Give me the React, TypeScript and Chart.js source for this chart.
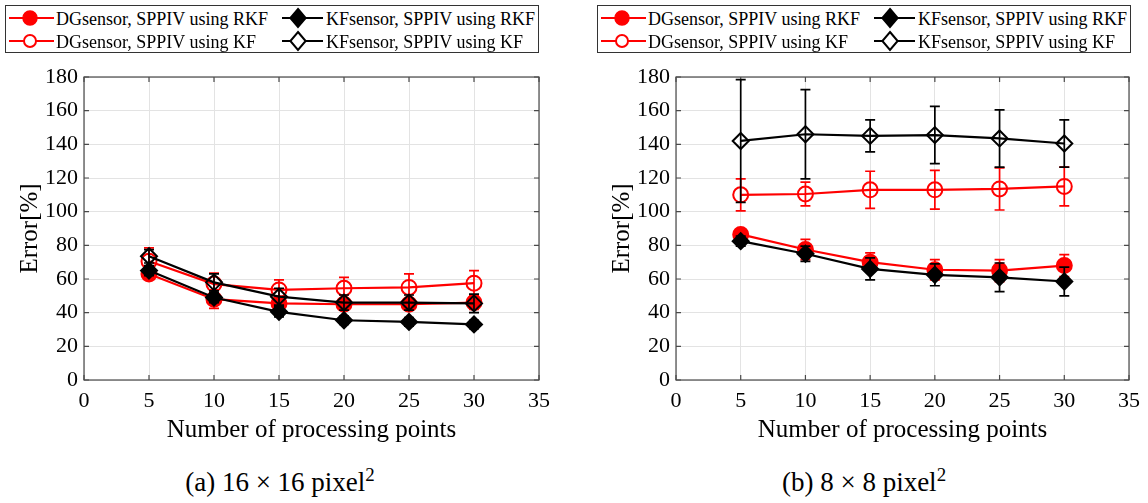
import React, { useEffect, useRef } from "react";
import { Chart, registerables } from "chart.js";

Chart.register(...registerables);

// ---------- data ----------
const xPoints = [5, 10, 15, 20, 25, 30];
const xTickValues = [0, 5, 10, 15, 20, 25, 30, 35];
const yTickValues = [0, 20, 40, 60, 80, 100, 120, 140, 160, 180];
const seriesNames = [
  "DGsensor, SPPIV using RKF",
  "DGsensor, SPPIV using KF",
  "KFsensor, SPPIV using RKF",
  "KFsensor, SPPIV using KF",
];
const xTitle = "Number of processing points";
const yTitle = "Error[%]";

// panel (a) 16x16
const aDgRkf = [63, 48, 45.5, 45, 45, 46];
const aDgRkfErr = [3, 5.5, 3.5, 3.5, 3.5, 4];
const aDgKf = [70.5, 57, 53.5, 54.5, 55, 57.5];
const aDgKfErr = [8, 6.5, 6, 6.5, 8, 7.5];
const aKfRkf = [65, 49, 40.5, 35.5, 34.5, 33];
const aKfRkfErr = [3, 3, 3, 2.5, 2.5, 2.5];
const aKfKf = [73.5, 58, 49.5, 46, 46, 45.5];
const aKfKfErr = [4, 5, 5, 4.5, 4.5, 5.5];

// panel (b) 8x8
const bDgRkf = [86.5, 77.5, 70, 65.5, 65, 68];
const bDgRkfErr = [2, 6, 5.5, 6, 6.5, 6.5];
const bDgKf = [110, 110.5, 113, 113, 113.5, 115];
const bDgKfErr = [9.5, 7, 11, 11.5, 12.5, 11.5];
const bKfRkf = [82.5, 75, 66, 62.5, 61, 58.5];
const bKfRkfErr = [3, 4.5, 6.5, 6.5, 8.5, 8.5];
const bKfKf = [142, 146, 145, 145.5, 143.5, 140.5];
const bKfKfErr = [36.5, 26.5, 9.5, 17, 17, 14];

// ---------- styling ----------
const FONT = "'Liberation Serif', 'Times New Roman', Times, serif";
const RED = "#ff0000";
const BLACK = "#000000";
const AXIS = "#4a4a4a";
const GRID = "#e3e3e3";

const errorBarPlugin = {
  id: "errorBars",
  afterDatasetDraw(chart: any, args: any) {
    const ds = chart.data.datasets[args.index];
    if (!ds.errors) return;
    const ctx = chart.ctx;
    const ys = chart.scales.y;
    ctx.save();
    ctx.strokeStyle = ds.borderColor;
    ctx.lineWidth = 1.7;
    args.meta.data.forEach((pt: any, i: number) => {
      const v = ds.data[i].y;
      const e = ds.errors[i];
      const x = pt.x;
      const yt = ys.getPixelForValue(v + e);
      const yb = ys.getPixelForValue(v - e);
      ctx.beginPath();
      ctx.moveTo(x, yt);
      ctx.lineTo(x, yb);
      ctx.moveTo(x - 5, yt);
      ctx.lineTo(x + 5, yt);
      ctx.moveTo(x - 5, yb);
      ctx.lineTo(x + 5, yb);
      ctx.stroke();
    });
    ctx.restore();
  },
};

const framePlugin = {
  id: "frame",
  beforeDatasetsDraw(chart: any) {
    const { ctx, chartArea: a, scales } = chart;
    ctx.save();
    ctx.strokeStyle = AXIS;
    ctx.lineWidth = 1.2;
    ctx.strokeRect(a.left, a.top, a.right - a.left, a.bottom - a.top);
    const tl = 5;
    ctx.beginPath();
    scales.x.ticks.forEach((t: any) => {
      const x = scales.x.getPixelForValue(t.value);
      ctx.moveTo(x, a.bottom);
      ctx.lineTo(x, a.bottom - tl);
      ctx.moveTo(x, a.top);
      ctx.lineTo(x, a.top + tl);
    });
    scales.y.ticks.forEach((t: any) => {
      const y = scales.y.getPixelForValue(t.value);
      ctx.moveTo(a.left, y);
      ctx.lineTo(a.left + tl, y);
      ctx.moveTo(a.right, y);
      ctx.lineTo(a.right - tl, y);
    });
    ctx.stroke();
    ctx.restore();
  },
};

type PanelProps = {
  left: number;
  width: number;
  caption: React.ReactNode;
  dgRkf: number[];
  dgRkfErr: number[];
  dgKf: number[];
  dgKfErr: number[];
  kfRkf: number[];
  kfRkfErr: number[];
  kfKf: number[];
  kfKfErr: number[];
};

const CANVAS_H = 460;
const PLOT_LEFT = 84;
const PLOT_RIGHT = 539;
const PLOT_TOP = 77;
const PLOT_BOTTOM = 380;
const XAXIS_H = 65;

function mk(vals: number[]) {
  return xPoints.map((x, i) => ({ x, y: vals[i] }));
}

function Panel(p: PanelProps) {
  const ref = useRef<HTMLCanvasElement | null>(null);
  useEffect(() => {
    if (!ref.current) return;
    const datasets: any[] = [
      {
        label: seriesNames[3],
        data: mk(p.kfKf),
        errors: p.kfKfErr,
        borderColor: BLACK,
        backgroundColor: "rgba(0,0,0,0)",
        pointStyle: "rectRot",
        pointRadius: 8,
        pointBorderWidth: 2,
        borderWidth: 2.2,
      },
      {
        label: seriesNames[2],
        data: mk(p.kfRkf),
        errors: p.kfRkfErr,
        borderColor: BLACK,
        backgroundColor: BLACK,
        pointBackgroundColor: BLACK,
        pointStyle: "rectRot",
        pointRadius: 8,
        pointBorderWidth: 2,
        borderWidth: 2.2,
      },
      {
        label: seriesNames[1],
        data: mk(p.dgKf),
        errors: p.dgKfErr,
        borderColor: RED,
        backgroundColor: "rgba(0,0,0,0)",
        pointStyle: "circle",
        pointRadius: 7.5,
        pointBorderWidth: 2,
        borderWidth: 2.2,
      },
      {
        label: seriesNames[0],
        data: mk(p.dgRkf),
        errors: p.dgRkfErr,
        borderColor: RED,
        backgroundColor: RED,
        pointBackgroundColor: RED,
        pointStyle: "circle",
        pointRadius: 7.5,
        pointBorderWidth: 2,
        borderWidth: 2.2,
      },
    ];
    const chart = new Chart(ref.current, {
      type: "line",
      data: { datasets },
      plugins: [framePlugin, errorBarPlugin],
      options: {
        animation: false,
        responsive: false,
        maintainAspectRatio: false,
        layout: {
          padding: {
            left: 0,
            top: PLOT_TOP,
            right: p.width - PLOT_RIGHT,
            bottom: CANVAS_H - PLOT_BOTTOM - XAXIS_H,
          },
        },
        plugins: {
          legend: { display: false },
          tooltip: { enabled: false },
        },
        scales: {
          x: {
            type: "linear",
            min: 0,
            max: 35,
            afterBuildTicks: (s: any) => {
              s.ticks = xTickValues.map((v) => ({ value: v }));
            },
            afterFit: (s: any) => {
              s.height = XAXIS_H;
            },
            ticks: {
              color: "#000",
              font: { family: FONT, size: 22 },
              padding: 8,
              maxRotation: 0,
            },
            grid: { color: GRID, lineWidth: 1, drawTicks: false },
            border: { display: false },
            title: {
              display: true,
              text: xTitle,
              color: "#000",
              font: { family: FONT, size: 25, lineHeight: 1.2 },
              padding: { top: 0, bottom: 0 },
            },
          },
          y: {
            type: "linear",
            min: 0,
            max: 180,
            afterBuildTicks: (s: any) => {
              s.ticks = yTickValues.map((v) => ({ value: v }));
            },
            afterFit: (s: any) => {
              s.width = PLOT_LEFT;
            },
            ticks: {
              color: "#000",
              font: { family: FONT, size: 22 },
              padding: 6,
            },
            grid: { color: GRID, lineWidth: 1, drawTicks: false },
            border: { display: false },
            title: {
              display: true,
              text: yTitle,
              color: "#000",
              font: { family: FONT, size: 25, lineHeight: 1.2 },
              padding: { top: 15, bottom: 0 },
            },
          },
        },
      } as any,
    });
    return () => chart.destroy();
  }, []);

  const rowY = [13, 36];
  const colMarker = [25, 293];
  const colLine = [
    [4, 49],
    [277, 318],
  ];
  const colText = [50, 320];
  const markerFor = (i: number) => {
    // i: 0 DG RKF, 1 DG KF, 2 KF RKF, 3 KF KF
    const col = i < 2 ? 0 : 1;
    const row = i % 2;
    const color = i < 2 ? RED : BLACK;
    const cy = rowY[row];
    const cx = colMarker[col];
    const [l1, l2] = colLine[col];
    let mark: React.ReactNode;
    if (i === 0) mark = <circle cx={cx} cy={cy} r={7} fill={RED} stroke={RED} strokeWidth={1.5} />;
    else if (i === 1) mark = <circle cx={cx} cy={cy} r={6} fill="white" stroke={RED} strokeWidth={2} />;
    else {
      const h = 9;
      const pts = `${cx},${cy - h} ${cx + h * 0.85},${cy} ${cx},${cy + h} ${cx - h * 0.85},${cy}`;
      mark = (
        <polygon points={pts} fill={i === 2 ? BLACK : "white"} stroke={BLACK} strokeWidth={2} />
      );
    }
    return (
      <g key={i}>
        <line x1={l1} y1={cy} x2={l2} y2={cy} stroke={color} strokeWidth={2.2} />
        {i === 1 || i === 3 ? (
          <line x1={cx - 7} y1={cy} x2={cx + 7} y2={cy} stroke={color} strokeWidth={2} />
        ) : null}
        {mark}
      </g>
    );
  };

  const boxLeft = 5;
  const boxW = PLOT_RIGHT - boxLeft;
  return (
    <div style={{ position: "absolute", left: p.left, top: 0, width: p.width, height: 503 }}>
      <canvas
        ref={ref}
        width={p.width}
        height={CANVAS_H}
        style={{ position: "absolute", left: 0, top: 0, width: p.width, height: CANVAS_H }}
      />
      <div
        style={{
          position: "absolute",
          left: boxLeft,
          top: 5,
          width: boxW,
          height: 48,
          border: "1px solid #333",
          background: "#fff",
          boxSizing: "border-box",
        }}
      >
        <svg width={boxW} height={48} style={{ position: "absolute", left: -1, top: -1 }}>
          {[0, 1, 2, 3].map((i) => markerFor(i))}
        </svg>
        {[0, 1, 2, 3].map((i) => {
          const col = i < 2 ? 0 : 1;
          const row = i % 2;
          return (
            <div
              key={i}
              style={{
                position: "absolute",
                left: colText[col],
                top: rowY[row] - 12,
                height: 24,
                lineHeight: "24px",
                fontFamily: FONT,
                fontSize: 18,
                color: "#000",
                whiteSpace: "nowrap",
              }}
            >
              {seriesNames[i]}
            </div>
          );
        })}
      </div>
      <div
        style={{
          position: "absolute",
          left: 0,
          top: 466,
          width: p.width - 12,
          textAlign: "center",
          fontFamily: FONT,
          fontSize: 27,
          lineHeight: "32px",
          color: "#000",
          whiteSpace: "nowrap",
        }}
      >
        {p.caption}
      </div>
    </div>
  );
}

export default function App() {
  return (
    <div
      style={{
        position: "fixed",
        left: 0,
        top: 0,
        width: 1148,
        height: 503,
        overflow: "hidden",
        background: "#fff",
      }}
    >
      <Panel
        left={0}
        width={572}
        caption={
          <span>
            (a) 16 × 16 pixel<sup style={{ fontSize: "0.7em", lineHeight: 0 }}>2</sup>
          </span>
        }
        dgRkf={aDgRkf}
        dgRkfErr={aDgRkfErr}
        dgKf={aDgKf}
        dgKfErr={aDgKfErr}
        kfRkf={aKfRkf}
        kfRkfErr={aKfRkfErr}
        kfKf={aKfKf}
        kfKfErr={aKfKfErr}
      />
      <Panel
        left={592}
        width={556}
        caption={
          <span>
            (b) 8 × 8 pixel<sup style={{ fontSize: "0.7em", lineHeight: 0 }}>2</sup>
          </span>
        }
        dgRkf={bDgRkf}
        dgRkfErr={bDgRkfErr}
        dgKf={bDgKf}
        dgKfErr={bDgKfErr}
        kfRkf={bKfRkf}
        kfRkfErr={bKfRkfErr}
        kfKf={bKfKf}
        kfKfErr={bKfKfErr}
      />
    </div>
  );
}
